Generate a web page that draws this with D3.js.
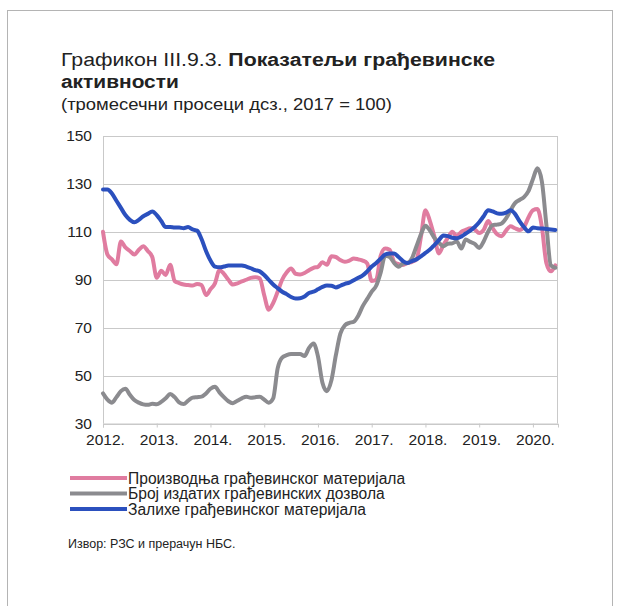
<!DOCTYPE html>
<html>
<head>
<meta charset="utf-8">
<script src="https://cdn.jsdelivr.net/npm/d3@7"></script>
<style>
  body { margin: 0; background: #fff; }
  text { font-family: "Liberation Sans", Arial, sans-serif; fill: #222; }
</style>
</head>
<body>
<div id="chart"></div>
<script>
// year tick labels (one tick every 12 months, starting Jan 2012)
var yearLabels = ["2012.", "2013.", "2014.", "2015.", "2016.", "2017.", "2018.", "2019.", "2020."];
var yTicks = [30, 50, 70, 90, 110, 130, 150];

var seriesNames = [
  "Производња грађевинског материјала",
  "Број издатих грађевинских дозвола",
  "Залихе грађевинског материјала"
];

// monthly values, Jan 2012 - Jun 2020
var production = [110, 100.5, 98.5, 96.5, 106, 103.5, 102, 100.5, 102.5, 104, 102, 99.5,
  90.8, 93.8, 92, 96.3, 89.5, 88.6, 88, 87.8, 87.6, 88.2, 87.8, 83.6,
  86, 88.5, 94, 92.5, 90, 88, 88.5, 89.3, 90, 90.8, 91, 90.6,
  83.5, 77.5, 80.3, 85, 90, 93, 94.7, 92.5, 92.2, 92.8, 94, 95,
  95.4, 97.3, 96.3, 99.8, 99.5, 98.2, 97.5, 98, 98.9, 98.5, 98, 96.8,
  89.5, 90, 100, 103, 102.5, 97.5, 96.5, 96.2, 97, 97.5, 98.5, 108,
  119, 114.5, 108, 101, 104.5, 107.5, 110, 108.2, 110, 110.8, 111.5, 111,
  109.5, 110.8, 114.5, 111.5, 109, 108.2, 110.5, 112.3, 111.5, 110.8, 112, 116,
  119, 119.5, 112, 97, 93.5, 96];

var permits = [42.6, 40, 38.7, 41, 43.5, 44.5, 42, 39.8, 38.7, 38, 37.8, 38.2,
  38, 39, 40.5, 42.3, 41, 38.8, 38.1, 39.5, 40.8, 41, 41.2, 42.5,
  44.5, 45.3, 43, 41, 39.3, 38.5, 39.5, 40.5, 41.2, 40.7, 41, 41.2,
  40, 38.7, 40.5, 53, 57.5, 58.5, 59, 59, 59, 58.2, 61.5, 63.4,
  58, 47, 43.5, 48, 58.5, 67.5, 71, 72, 72.5, 75, 79, 82,
  85, 87.5, 93, 100, 99.5, 97, 95.4, 96.8, 97, 99, 104, 109,
  112.5, 110.5, 107.5, 105.5, 104, 105, 105.2, 106, 103, 106.8, 105.8, 105,
  103.3, 106, 110, 112.8, 113, 113.5, 115.6, 119, 122, 123.3, 124.5, 127,
  132, 136.5, 131, 113, 96, 95];

var stocks = [127.7, 127.7, 126, 123, 120, 117, 115, 114, 115, 116.5, 117.5, 118.5,
  117, 114.5, 112, 112, 111.8, 111.8, 111.5, 112, 111, 110.5, 107, 102,
  98, 95.5, 95.2, 95.5, 96, 96, 96, 96, 95.5, 94.8, 94, 93.5,
  92, 90, 88, 86.5, 85, 84, 82.8, 82.2, 82.3, 83, 84.5, 85,
  86, 87, 87.6, 87.5, 86.8, 87.5, 88.3, 88.8, 89.8, 90.8, 91.8, 93.5,
  95.5, 97, 98.8, 100.5, 101, 101, 99.5, 97.8, 97, 97.8, 98.5, 99.8,
  101.2, 102.6, 104.5, 106.5, 108.5, 108.2, 107.5, 107.3, 108, 109.3, 110.5, 112,
  114, 116.5, 119, 118.5, 117.7, 117.5, 118, 119, 117.5, 114.5, 112, 110.2,
  111.8, 111.5, 111.4, 111.2, 111, 110.8];

var colors = ["#e07ca0", "#8b8b8f", "#2b50be"];

var svgWidth = 618;
var svgHeight = 606;

var margin = {
  top: 136,
  right: 60,
  bottom: 182.5,
  left: 103
};

var width = svgWidth - margin.left - margin.right;
var height = svgHeight - margin.top - margin.bottom;

var svg = d3.select("#chart")
  .append("svg")
  .attr("width", svgWidth)
  .attr("height", svgHeight);

// outer frame
svg.append("rect")
  .attr("x", 7.5)
  .attr("y", 10.5)
  .attr("width", 605)
  .attr("height", 620)
  .attr("fill", "none")
  .attr("stroke", "#b4b4b4")
  .attr("stroke-width", 1);

// title (glyphs a bit wide in the original, so stretch horizontally)
var title = svg.append("text")
  .attr("transform", "translate(61, 66) scale(1.12, 1)")
  .style("font-size", "19px");
title.append("tspan").text("Графикон III.9.3. ");
title.append("tspan").style("font-weight", "bold").text("Показатељи грађевинске");

svg.append("text")
  .attr("transform", "translate(61, 88) scale(1.1, 1)")
  .style("font-size", "19px")
  .style("font-weight", "bold")
  .text("активности");

svg.append("text")
  .attr("x", 61)
  .attr("y", 109.5)
  .style("font-size", "17px")
  .text("(тромесечни просеци дсз., 2017 = 100)")
  .attr("textLength", 331)
  .attr("lengthAdjust", "spacingAndGlyphs");

var chartGroup = svg.append("g")
  .attr("transform", `translate(${margin.left}, ${margin.top})`);

var xScale = d3.scaleLinear()
  .domain([0, 101.6])
  .range([0, width]);

var yScale = d3.scaleLinear()
  .domain([30, 150])
  .range([height, 0]);

// gridlines
chartGroup.selectAll(".grid")
  .data(yTicks)
  .enter()
  .append("line")
  .attr("x1", 0)
  .attr("x2", width)
  .attr("y1", d => Math.round(yScale(d)) + 0.5)
  .attr("y2", d => Math.round(yScale(d)) + 0.5)
  .attr("stroke", "#c9c9c9")
  .attr("stroke-width", 1);

// left and right border
chartGroup.append("line")
  .attr("x1", 0.5).attr("x2", 0.5)
  .attr("y1", 0).attr("y2", height)
  .attr("stroke", "#c9c9c9");
chartGroup.append("line")
  .attr("x1", width - 0.5).attr("x2", width - 0.5)
  .attr("y1", 0).attr("y2", height)
  .attr("stroke", "#c9c9c9");

// y axis labels
var leftAxis = d3.axisLeft(yScale)
  .tickValues(yTicks)
  .tickSize(0)
  .tickPadding(11);

var yAxisG = chartGroup.append("g").call(leftAxis);
yAxisG.select(".domain").remove();
yAxisG.selectAll("text")
  .style("font-size", "15.5px")
  .style("font-family", "Liberation Sans, Arial, sans-serif")
  .attr("fill", "#222");

// x axis
var bottomAxis = d3.axisBottom(xScale)
  .tickValues(yearLabels.map((d, i) => i * 12))
  .tickFormat((d, i) => yearLabels[i])
  .tickSize(4)
  .tickPadding(6);

var xAxisG = chartGroup.append("g")
  .attr("transform", `translate(0, ${height})`)
  .call(bottomAxis);
xAxisG.select(".domain").attr("stroke", "#c9c9c9");
xAxisG.selectAll("line").attr("stroke", "#c9c9c9");
xAxisG.selectAll("text")
  .attr("dx", 2)
  .style("font-size", "15.5px")
  .style("font-family", "Liberation Sans, Arial, sans-serif")
  .attr("fill", "#222");

// lines
var line = d3.line()
  .x((d, i) => xScale(i))
  .y(d => yScale(d))
  .curve(d3.curveMonotoneX);

[production, permits, stocks].forEach((series, k) => {
  chartGroup.append("path")
    .datum(series)
    .attr("d", line)
    .attr("fill", "none")
    .attr("stroke", colors[k])
    .attr("stroke-width", 4)
    .attr("stroke-linejoin", "round")
    .attr("stroke-linecap", "round");
});

// legend
var legend = svg.append("g");
seriesNames.forEach((name, k) => {
  var y = 478 + k * 15.5;
  legend.append("line")
    .attr("x1", 70)
    .attr("x2", 127)
    .attr("y1", y)
    .attr("y2", y)
    .attr("stroke", colors[k])
    .attr("stroke-width", 4);
  legend.append("text")
    .attr("x", 128)
    .attr("y", y + 5.5)
    .style("font-size", "15.6px")
    .text(name);
});

svg.append("text")
  .attr("x", 68)
  .attr("y", 548)
  .style("font-size", "12.5px")
  .text("Извор: РЗС и прерачун НБС.");
</script>
</body>
</html>
